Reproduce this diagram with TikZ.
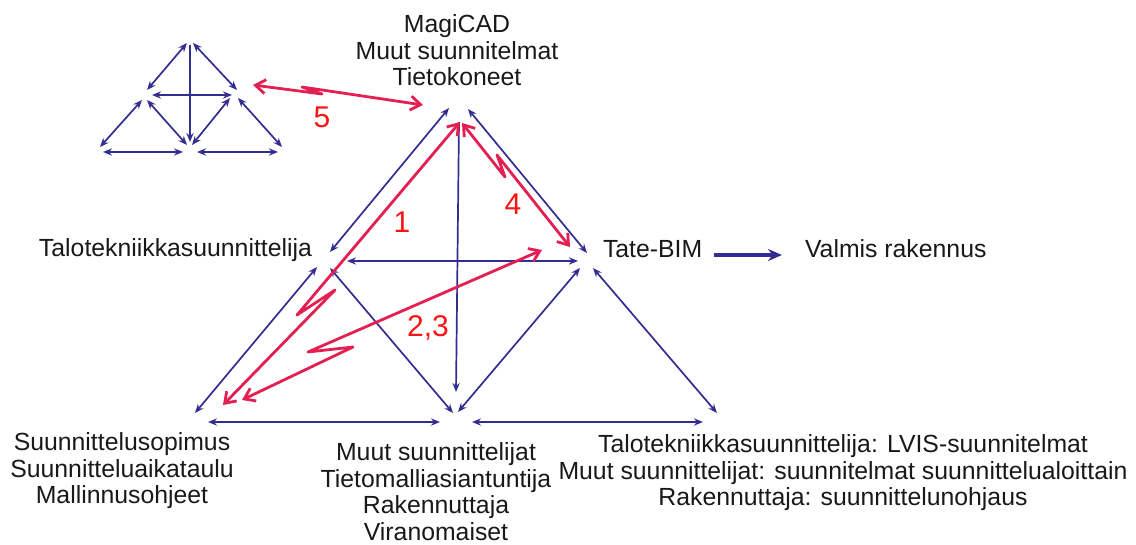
\documentclass[tikz,border=0pt]{standalone}
\usepackage{fontspec}
\setmainfont{Liberation Sans}
\usetikzlibrary{arrows.meta}
\definecolor{cblue}{RGB}{51,45,145}
\definecolor{cred}{RGB}{228,32,82}
\definecolor{ctxt}{RGB}{250,20,20}
\definecolor{cdark}{RGB}{25,25,25}
\begin{document}
\begin{tikzpicture}[x=0.5pt,y=-0.5pt,
  every node/.style={inner sep=0pt,outer sep=0pt,text=cdark},
  lbl/.style={font=\fontsize{12.4}{13.2}\selectfont,align=center},
  num/.style={font=\fontsize{15}{16}\selectfont,text=ctxt,anchor=base},
  barrow/.style={draw=cblue,line width=0.85pt,{Stealth[length=4.5pt,width=3.6pt]}-{Stealth[length=4.5pt,width=3.6pt]}},
  bone/.style={draw=cblue,line width=0.85pt,-{Stealth[length=4.5pt,width=3.6pt]}},
  bthick/.style={draw=cblue,line width=2pt,-{Stealth[length=7pt,width=6pt]}},
  rarrow/.style={draw=cred,line width=1.4pt,line join=round,{Straight Barb[length=5pt,width=7pt]}-{Straight Barb[length=5pt,width=7pt]}}]
\fill[white] (0,0) rectangle (1136,545);
% ---------- big triangle ----------
\coordinate (t1) at (449,108); \coordinate (l1) at (330,252);
\coordinate (t2) at (468,109); \coordinate (r1) at (587,253);
\coordinate (t3) at (459,122); \coordinate (m1) at (456,392);
\coordinate (l2) at (347,261); \coordinate (r2) at (578,261);
\coordinate (l3) at (317,267); \coordinate (bl1) at (195,413);
\coordinate (l4) at (330,268); \coordinate (m2) at (453,413);
\coordinate (bl2) at (208,422); \coordinate (m3) at (440,422);
\coordinate (r3) at (580,268); \coordinate (m4) at (458,412);
\coordinate (r4) at (593,268); \coordinate (br1) at (717,413);
\coordinate (m5) at (472,422); \coordinate (br2) at (703,422);
\draw[barrow] (t1) -- (l1);
\draw[barrow] (t2) -- (r1);
\draw[bone] (t3) -- (m1);
\draw[barrow] (l2) -- (r2);
\draw[barrow] (l3) -- (bl1);
\draw[barrow] (l4) -- (m2);
\draw[barrow] (bl2) -- (m3);
\draw[barrow] (r3) -- (m4);
\draw[barrow] (r4) -- (br1);
\draw[barrow] (m5) -- (br2);
% ---------- small triangle ----------
\coordinate (s1) at (187,43); \coordinate (s2) at (147,90);
\coordinate (s3) at (193,43); \coordinate (s4) at (237,90);
\coordinate (s5) at (190,45); \coordinate (s6) at (190,142);
\coordinate (s7) at (152,95); \coordinate (s8) at (232,95);
\coordinate (s9) at (142,100); \coordinate (s10) at (100,147);
\coordinate (s11) at (147,100); \coordinate (s12) at (187,145);
\coordinate (s13) at (103,152); \coordinate (s14) at (183,152);
\coordinate (s15) at (230,98); \coordinate (s16) at (192,145);
\coordinate (s17) at (238,98); \coordinate (s18) at (282,147);
\coordinate (s19) at (197,152); \coordinate (s20) at (278,152);
\draw[barrow] (s1) -- (s2);
\draw[barrow] (s3) -- (s4);
\draw[bone] (s5) -- (s6);
\draw[barrow] (s7) -- (s8);
\draw[barrow] (s9) -- (s10);
\draw[barrow] (s11) -- (s12);
\draw[barrow] (s13) -- (s14);
\draw[barrow] (s15) -- (s16);
\draw[barrow] (s17) -- (s18);
\draw[barrow] (s19) -- (s20);
% ---------- texts ----------
\node[lbl,anchor=north] (top) at (457,15) {MagiCAD\\Muut suunnitelmat\\Tietokoneet};
\node[lbl,anchor=base west] (tate) at (39,257) {Talotekniikkasuunnittelija};
\node[lbl,anchor=base west] (bim) at (603,258) {Tate-BIM};
\node[lbl,anchor=base west] (valmis) at (805,258) {Valmis rakennus};
\node[lbl,anchor=north] (sopimus) at (122,433) {Suunnittelusopimus\\Suunnitteluaikataulu\\Mallinnusohjeet};
\node[lbl,anchor=north] (muut) at (436,443) {Muut suunnittelijat\\Tietomalliasiantuntija\\Rakennuttaja\\Viranomaiset};
\node[lbl,anchor=north] (lvis) at (843,435) {Talotekniikkasuunnittelija: LVIS-suunnitelmat\\Muut suunnittelijat: suunnitelmat suunnittelualoittain\\Rakennuttaja: suunnittelunohjaus};
\draw[bthick] ([shift={(12,-3)}]bim.base east) -- ([shift={(-23,-3)}]valmis.base west);
% ---------- red arrows ----------
\coordinate (a5) at (253,85); \coordinate (a5b) at (322,94);
\coordinate (a5c) at (302,87); \coordinate (a5d) at (423,105);
\coordinate (a1) at (460,122); \coordinate (a1b) at (297,315);
\coordinate (a1c) at (335,290); \coordinate (a1d) at (223,405);
\coordinate (a4) at (462,123); \coordinate (a4b) at (505,177);
\coordinate (a4c) at (497,155); \coordinate (a4d) at (570,247);
\coordinate (a2) at (542,250); \coordinate (a2b) at (308,352);
\coordinate (a2c) at (353,347); \coordinate (a2d) at (242,400);
\draw[rarrow] (a5) -- (a5b) -- (a5c) -- (a5d);
\draw[rarrow] (a1) -- (a1b) -- (a1c) -- (a1d);
\draw[rarrow] (a4) -- (a4b) -- (a4c) -- (a4d);
\draw[rarrow] (a2) -- (a2b) -- (a2c) -- (a2d);
\node[num] (n5) at (322,128) {5};
\node[num] (n1) at (402,233) {1};
\node[num] (n4) at (513,215) {4};
\node[num] (n23) at (428,337) {2,3};
\end{tikzpicture}
\end{document}
